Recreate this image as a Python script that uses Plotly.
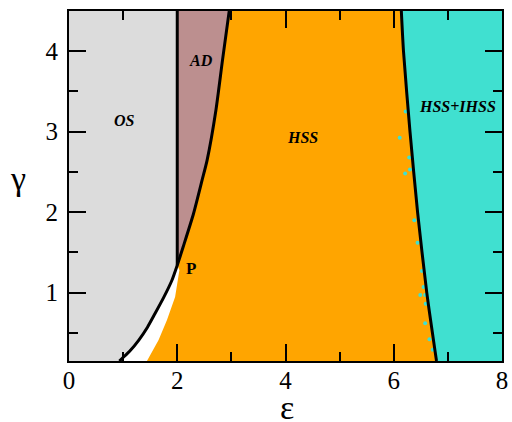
import plotly.graph_objects as go

# OS / HSS boundary curve (black), passes through P=(2,1.34)
curve_eps = [0.93, 1.12, 1.29, 1.45, 1.59, 1.75, 1.90, 2.00, 2.11, 2.30, 2.46, 2.55, 2.715, 2.836, 2.96]
curve_gam = [0.15, 0.27, 0.41, 0.57, 0.74, 0.94, 1.15, 1.34, 1.57, 1.98, 2.40, 2.64, 3.27, 3.89, 4.50]
P_index = 7

# left edge of HSS (orange) region below P
hss_left_eps = [1.44, 1.655, 1.81, 1.96, 2.04]
hss_left_gam = [0.15, 0.41, 0.66, 0.945, 1.28]

# HSS / HSS+IHSS boundary (black)
right_eps = [6.14, 6.18, 6.30, 6.44, 6.61, 6.79]
right_gam = [4.50, 4.00, 3.00, 2.00, 1.00, 0.15]

# scattered HSS+IHSS points inside HSS region
dots_eps = [6.11, 6.22, 6.285, 6.30, 6.21, 6.38, 6.44, 6.52, 6.55, 6.49, 6.58, 6.59, 6.58, 6.66, 6.72]
dots_gam = [2.925, 3.25, 2.68, 2.53, 2.48, 1.90, 1.62, 1.27, 1.07, 0.97, 0.97, 0.86, 0.62, 0.42, 0.29]

XMIN, XMAX, YMIN, YMAX = 0, 8, 0.15, 4.5

fig = go.Figure()

# OS region (gray)
os_x = [XMIN] + curve_eps[:P_index + 1] + [2.0, XMIN]
os_y = [YMIN] + curve_gam[:P_index + 1] + [YMAX, YMAX]
fig.add_trace(go.Scatter(x=os_x, y=os_y, fill="toself", fillcolor="#DCDCDC",
                         line=dict(width=0), mode="lines", hoverinfo="skip"))

# AD region (rosybrown)
ad_x = curve_eps[P_index:] + [2.0]
ad_y = curve_gam[P_index:] + [YMAX]
fig.add_trace(go.Scatter(x=ad_x, y=ad_y, fill="toself", fillcolor="#BC8F8F",
                         line=dict(width=0), mode="lines", hoverinfo="skip"))

# HSS region (orange)
hss_x = hss_left_eps + curve_eps[P_index:] + right_eps
hss_y = hss_left_gam + curve_gam[P_index:] + right_gam
fig.add_trace(go.Scatter(x=hss_x, y=hss_y, fill="toself", fillcolor="#FFA500",
                         line=dict(width=0), mode="lines", hoverinfo="skip"))

# HSS+IHSS region (turquoise)
c_x = right_eps + [XMAX, XMAX]
c_y = right_gam + [YMIN, YMAX]
fig.add_trace(go.Scatter(x=c_x, y=c_y, fill="toself", fillcolor="#40E0D0",
                         line=dict(width=0), mode="lines", hoverinfo="skip"))

# dots
fig.add_trace(go.Scatter(x=dots_eps, y=dots_gam, mode="markers",
                         marker=dict(color="#40E0D0", size=4), hoverinfo="skip"))

# boundary lines
fig.add_trace(go.Scatter(x=curve_eps, y=curve_gam, mode="lines",
                         line=dict(color="black", width=3, shape="spline", smoothing=0.6)))
fig.add_trace(go.Scatter(x=[2.0, 2.0], y=[curve_gam[P_index], YMAX], mode="lines",
                         line=dict(color="black", width=3)))
fig.add_trace(go.Scatter(x=right_eps, y=right_gam, mode="lines",
                         line=dict(color="black", width=3, shape="spline", smoothing=0.6)))

SERIF = "Liberation Serif, Times New Roman, serif"
tickfont = dict(family=SERIF, size=25, color="black")
fig.update_xaxes(range=[XMIN, XMAX], tick0=0, dtick=2, ticks="inside", ticklen=17,
                 tickwidth=1.5, tickcolor="black", showline=True, linecolor="black",
                 linewidth=2, mirror="ticks", showgrid=False, zeroline=False,
                 tickfont=tickfont, ticklabelstandoff=-4, ticklabeloverflow="allow",
                 minor=dict(dtick=1, ticks="inside", ticklen=9, tickwidth=1.5,
                            tickcolor="black", showgrid=False))
fig.update_yaxes(range=[YMIN, YMAX], tick0=0, dtick=1, ticks="inside", ticklen=17,
                 tickwidth=1.5, tickcolor="black", showline=True, linecolor="black",
                 linewidth=2, mirror="ticks", showgrid=False, zeroline=False,
                 tickfont=tickfont, ticklabelstandoff=4, ticklabeloverflow="allow",
                 minor=dict(dtick=0.5, ticks="inside", ticklen=9, tickwidth=1.5,
                            tickcolor="black", showgrid=False))

lab = dict(family=SERIF, size=16, color="black")
ann = [
    dict(x=1.02, y=3.14, text="<b><i>OS</i></b>"),
    dict(x=2.44, y=3.89, text="<b><i>AD</i></b>"),
    dict(x=4.32, y=2.93, text="<b><i>HSS</i></b>"),
    dict(x=7.17, y=3.31, text="<b><i>HSS+IHSS</i></b>"),
]
for a in ann:
    fig.add_annotation(x=a["x"], y=a["y"], text=a["text"], showarrow=False,
                       xref="x", yref="y", font=lab)
fig.add_annotation(x=2.26, y=1.3, text="<b>P</b>", showarrow=False, xref="x", yref="y",
                   font=dict(family=SERIF, size=17, color="black"))

fig.add_annotation(x=-0.118, y=0.522, xref="paper", yref="paper", text="γ", showarrow=False,
                   xanchor="center", yanchor="middle",
                   font=dict(family=SERIF, size=34, color="black"))
fig.add_annotation(x=0.503, y=-0.134, xref="paper", yref="paper", text="ε", showarrow=False,
                   xanchor="center", yanchor="middle",
                   font=dict(family=SERIF, size=34, color="black"))

fig.update_layout(width=512, height=422, showlegend=False,
                  margin=dict(l=69, r=4, t=11, b=61),
                  plot_bgcolor="white", paper_bgcolor="white")

fig.write_html("out.html", config={"displayModeBar": False},
               post_script="document.body.style.margin='0';")
